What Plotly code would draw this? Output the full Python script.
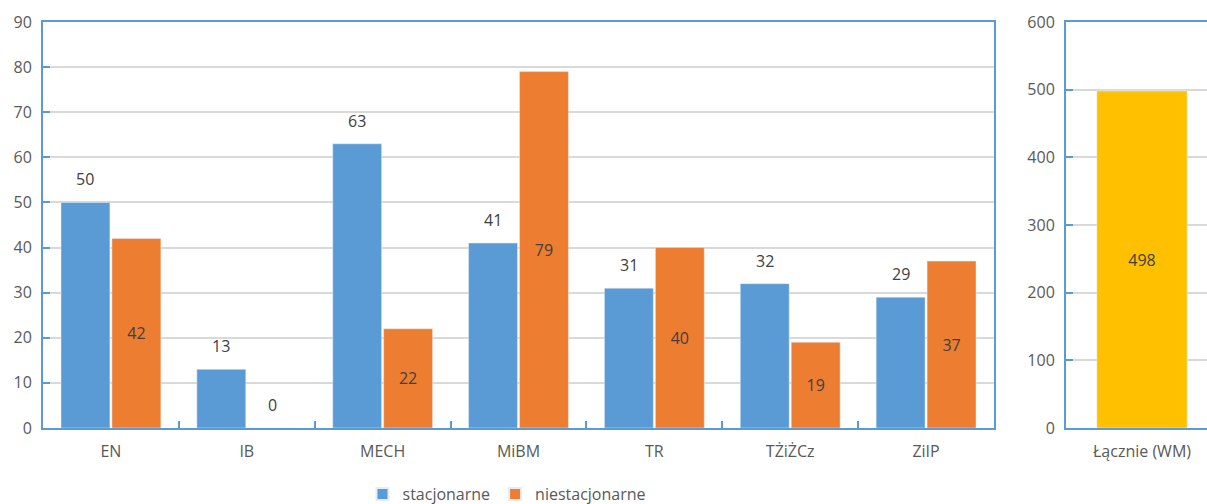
import plotly.graph_objects as go

categories = ["EN", "IB", "MECH", "MiBM", "TR", "TŻiŻCz", "ZiIP"]
stacjonarne = [50, 13, 63, 41, 31, 32, 29]
niestacjonarne = [42, 0, 22, 79, 40, 19, 37]
total_label = ["Łącznie (WM)"]
total_value = [498]
left_ticks = [0, 10, 20, 30, 40, 50, 60, 70, 80, 90]
right_ticks = [0, 100, 200, 300, 400, 500, 600]

BLUE = "#5B9BD5"
ORANGE = "#ED7D31"
YELLOW = "#FFC000"
AXIS = "#5B9BD5"
GRID = "#D9D9D9"
TXT = "#595959"
LBL = "#404040"
FONT = "Open Sans"
FS = 16

W, H = 1207, 504
ml, mr, mt, mb = 43, 0, 22, 76
pw = W - ml - mr
left_px = 994 - ml
left_end = left_px / pw
right_start = (1066 - ml) / pw
BARGAP, GROUPGAP = 0.25, 0.04
cat_px = left_px / len(categories)
offset_px = (1 - BARGAP) / 4 * cat_px

fig = go.Figure()
fig.add_trace(go.Bar(
    x=categories, y=stacjonarne, name="stacjonarne", marker_color=BLUE,
    xaxis="x", yaxis="y",
))
fig.add_trace(go.Bar(
    x=categories, y=niestacjonarne, name="niestacjonarne", marker_color=ORANGE,
    text=[str(v) if v > 0 else "" for v in niestacjonarne],
    textposition="inside", insidetextanchor="middle", textangle=0,
    insidetextfont=dict(color=LBL, size=FS, family=FONT),
    xaxis="x", yaxis="y",
))
fig.add_trace(go.Bar(
    x=total_label, y=total_value, name="Łącznie", marker_color=YELLOW,
    text=[str(v) for v in total_value], textposition="inside",
    insidetextanchor="middle", textangle=0,
    insidetextfont=dict(color=LBL, size=FS, family=FONT),
    width=0.64, showlegend=False,
    xaxis="x2", yaxis="y2",
))

annotations = []
for c, v in zip(categories, stacjonarne):
    annotations.append(dict(x=c, y=v, xref="x", yref="y", text=str(v),
                            showarrow=False, xshift=-offset_px, yshift=10,
                            yanchor="bottom",
                            font=dict(color=LBL, size=FS, family=FONT)))
for c, v in zip(categories, niestacjonarne):
    if v == 0:
        annotations.append(dict(x=c, y=v, xref="x", yref="y", text=str(v),
                                showarrow=False, xshift=offset_px, yshift=10,
                                yanchor="bottom",
                                font=dict(color=LBL, size=FS, family=FONT)))

axis_common = dict(showline=True, linecolor=AXIS, linewidth=2,
                   tickfont=dict(family=FONT, size=FS, color=TXT))

fig.update_layout(
    width=W, height=H,
    margin=dict(l=ml, r=mr, t=mt, b=mb, autoexpand=False),
    paper_bgcolor="white", plot_bgcolor="white",
    barmode="group", bargap=BARGAP, bargroupgap=GROUPGAP,
    font=dict(family=FONT, size=FS, color=TXT),
    xaxis=dict(domain=[0, left_end], mirror=True, ticks="inside", ticklen=7,
               tickcolor=AXIS, tickwidth=1.5, tickson="boundaries",
               ticklabelstandoff=8, **axis_common),
    yaxis=dict(range=[0, 90], tickvals=left_ticks, mirror=True, ticks="inside",
               ticklen=7, tickcolor=AXIS, tickwidth=1.5, showgrid=True,
               gridcolor=GRID, gridwidth=1.5, zeroline=False,
               ticklabelstandoff=6, **axis_common),
    xaxis2=dict(domain=[right_start, 1], anchor="y2", mirror=True,
                range=[-0.539, 0.461], ticks="", ticklabelstandoff=8,
                **axis_common),
    yaxis2=dict(anchor="x2", range=[0, 600], tickvals=right_ticks, mirror=False,
                ticks="inside", ticklen=7, tickcolor=AXIS, tickwidth=1.5,
                showgrid=True, gridcolor=GRID, gridwidth=1.5, zeroline=False,
                ticklabelstandoff=6, **axis_common),
    legend=dict(orientation="h", xref="container", yref="container",
                x=507 / W, xanchor="center",
                y=(H - 494) / H, yanchor="middle",
                font=dict(family=FONT, size=FS, color=TXT),
                itemsizing="constant", itemwidth=30),
    annotations=annotations,
    showlegend=True,
)

fig.write_html("out.html", config={"displayModeBar": False})
with open("out.html", encoding="utf-8") as f:
    html = f.read()
html = html.replace("<body>", '<body style="margin:0;overflow:hidden">', 1)
with open("out.html", "w", encoding="utf-8") as f:
    f.write(html)
